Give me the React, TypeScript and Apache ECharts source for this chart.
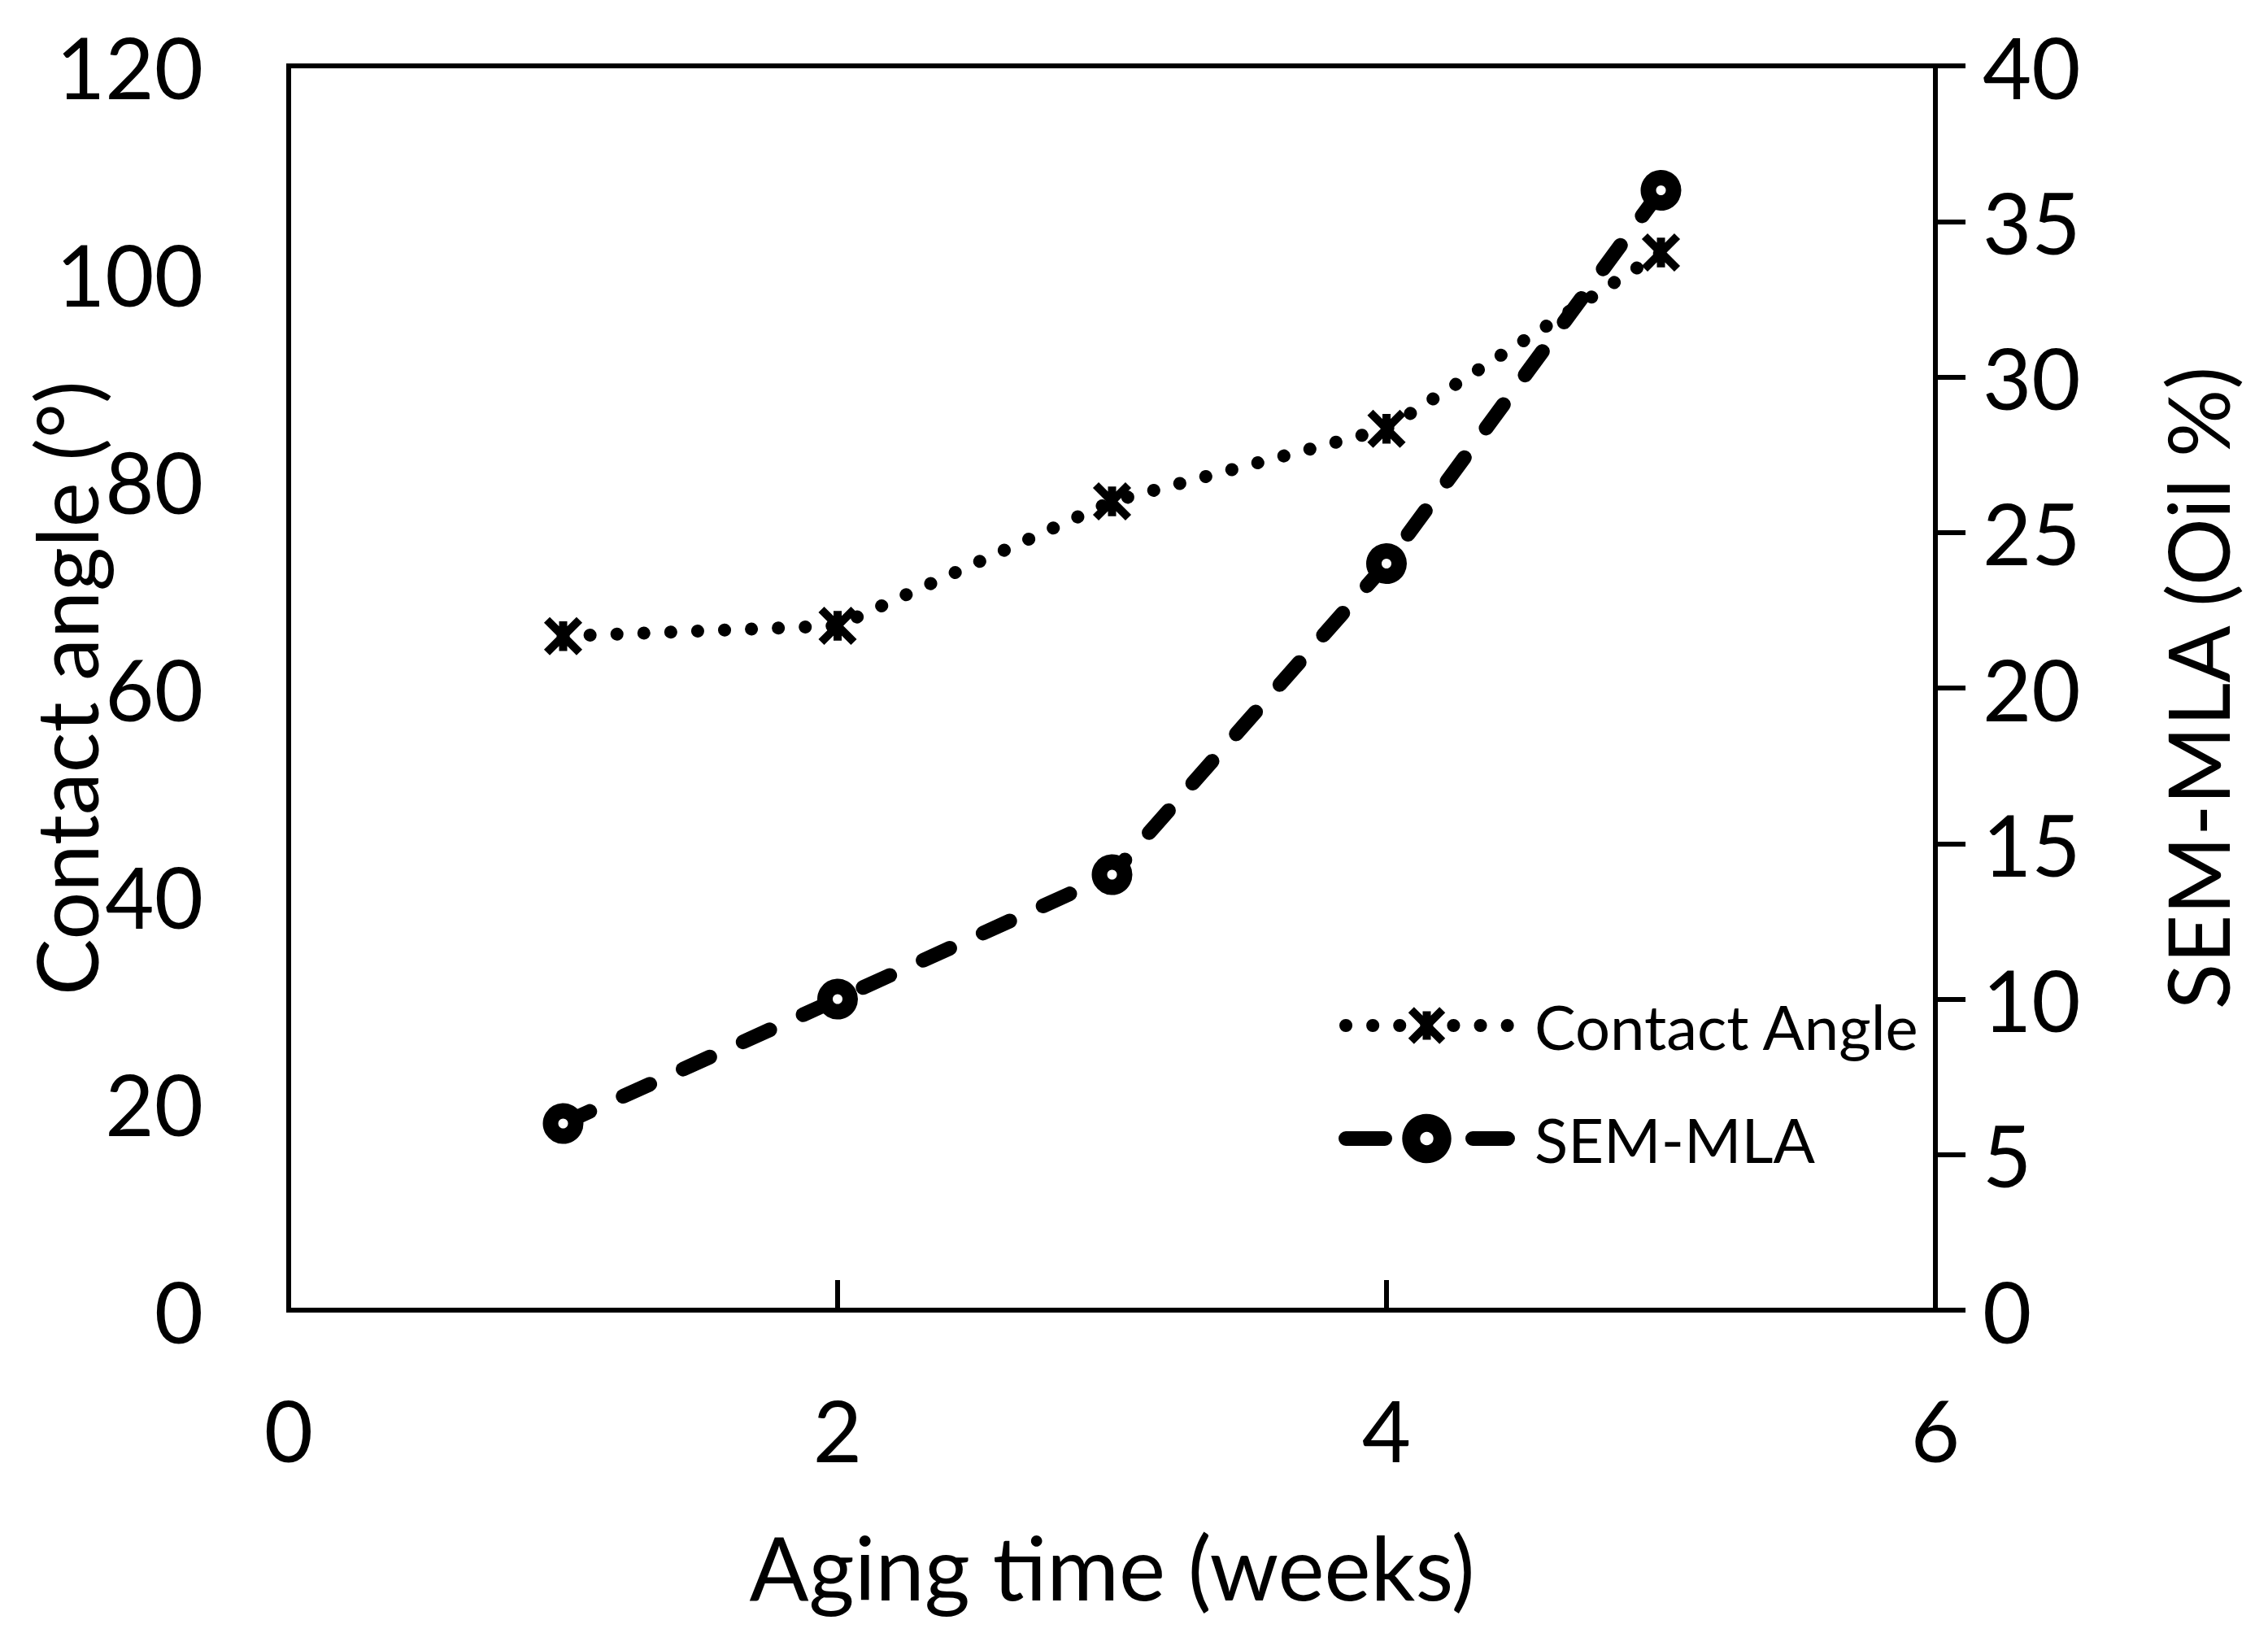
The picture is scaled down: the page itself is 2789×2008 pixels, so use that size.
import React, { useEffect, useRef } from "react";
import * as echarts from "echarts";

// ---- data ----
const weeks = [1, 2, 3, 4, 5];
const contactAngle = [65, 66, 78, 85, 102];
const semMla = [6, 10, 14, 24, 36];

const xTicks = { min: 0, max: 6, interval: 2 };
const leftTicks = { min: 0, max: 120, interval: 20 };
const rightTicks = { min: 0, max: 40, interval: 5 };

const seriesNames = ["Contact Angle", "SEM-MLA"];
const xTitle = "Aging time (weeks)";
const leftTitle = "Contact angle (°)";
const rightTitle = "SEM-MLA (Oil %)";

const FONT = "Lato";
const FS = 104;
const BLACK = "#000";

const asteriskPath = "path://M0 0L48 48M48 0L0 48M24 2L24 46";

export default function App() {
  const ref = useRef<HTMLDivElement>(null);

  useEffect(() => {
    if (!ref.current) return;
    const chart = echarts.init(ref.current, null, { renderer: "svg" });

    const contactLine = { color: BLACK, width: 16, type: [0.1, 33], cap: "round" };
    const semLine = { color: BLACK, width: 18, type: [36, 45], cap: "round" };
    const contactItem = { color: BLACK, borderColor: BLACK, borderWidth: 10 };
    const semItem = { color: "#fff", borderColor: BLACK, borderWidth: 19 };

    const option: any = {
      animation: false,
      backgroundColor: "#fff",
      textStyle: { fontFamily: FONT, color: BLACK },
      grid: {
        left: 355,
        right: 409,
        top: 81,
        bottom: 397,
        show: true,
        borderColor: BLACK,
        borderWidth: 6,
        backgroundColor: "transparent",
        outerBoundsMode: "none",
        containLabel: false,
      },
      legend: {
        orient: "vertical",
        left: 1646,
        top: 1223,
        padding: 0,
        itemWidth: 199,
        itemHeight: 48,
        itemGap: 63,
        selectedMode: false,
        formatter: (name: string) => `{t|${name}}`,
        textStyle: {
          fontFamily: FONT,
          fontSize: 76,
          color: BLACK,
          rich: {
            t: {
              fontFamily: FONT,
              fontSize: 76,
              color: BLACK,
              padding: [0, 0, 0, 28],
            },
          },
        },
        data: [
          {
            name: seriesNames[0],
            itemStyle: contactItem,
            lineStyle: contactLine,
          },
          {
            name: seriesNames[1],
            itemStyle: { color: "#fff", borderColor: BLACK, borderWidth: 22 },
            lineStyle: { ...semLine, type: [48, 108] },
          },
        ],
      },
      xAxis: {
        type: "value",
        min: xTicks.min,
        max: xTicks.max,
        interval: xTicks.interval,
        axisLine: { show: true, onZero: false, lineStyle: { color: BLACK, width: 6 } },
        axisTick: { show: true, inside: true, length: 37, lineStyle: { color: BLACK, width: 6 } },
        axisLabel: { fontFamily: FONT, fontSize: FS, color: BLACK, margin: 94 },
        splitLine: { show: false },
        name: xTitle,
        nameLocation: "middle",
        nameGap: 261,
        nameMoveOverlap: false,
        nameTextStyle: { fontFamily: FONT, fontSize: 108, color: BLACK },
      },
      yAxis: [
        {
          type: "value",
          position: "left",
          min: leftTicks.min,
          max: leftTicks.max,
          interval: leftTicks.interval,
          axisLine: { show: true, onZero: false, lineStyle: { color: BLACK, width: 6 } },
          axisTick: { show: false },
          axisLabel: { fontFamily: FONT, fontSize: FS, color: BLACK, margin: 105 },
          splitLine: { show: false },
          name: leftTitle,
          nameLocation: "middle",
          nameRotate: 90,
          nameGap: 223,
          nameMoveOverlap: false,
          nameTextStyle: { fontFamily: FONT, fontSize: FS, color: BLACK },
        },
        {
          type: "value",
          position: "right",
          min: rightTicks.min,
          max: rightTicks.max,
          interval: rightTicks.interval,
          axisLine: { show: true, onZero: false, lineStyle: { color: BLACK, width: 6 } },
          axisTick: { show: true, inside: false, length: 37, lineStyle: { color: BLACK, width: 6 } },
          axisLabel: { fontFamily: FONT, fontSize: FS, color: BLACK, margin: 58 },
          splitLine: { show: false },
          name: rightTitle,
          nameLocation: "middle",
          nameRotate: 90,
          nameGap: 269,
          nameMoveOverlap: false,
          nameTextStyle: { fontFamily: FONT, fontSize: FS, color: BLACK },
        },
      ],
      series: [
        {
          name: seriesNames[0],
          type: "line",
          yAxisIndex: 0,
          data: weeks.map((w, i) => [w, contactAngle[i]]),
          symbol: asteriskPath,
          symbolSize: 40,
          itemStyle: contactItem,
          lineStyle: contactLine,
          emphasis: { disabled: true },
          silent: true,
          z: 2,
        },
        {
          name: seriesNames[1],
          type: "line",
          yAxisIndex: 1,
          data: weeks.map((w, i) => [w, semMla[i]]),
          symbol: "circle",
          symbolSize: 31,
          itemStyle: semItem,
          lineStyle: semLine,
          emphasis: { disabled: true },
          silent: true,
          z: 3,
        },
      ],
    };

    chart.setOption(option);
    return () => chart.dispose();
  }, []);

  return (
    <div
      ref={ref}
      style={{ position: "absolute", left: 0, top: 0, width: "2789px", height: "2008px" }}
    />
  );
}
